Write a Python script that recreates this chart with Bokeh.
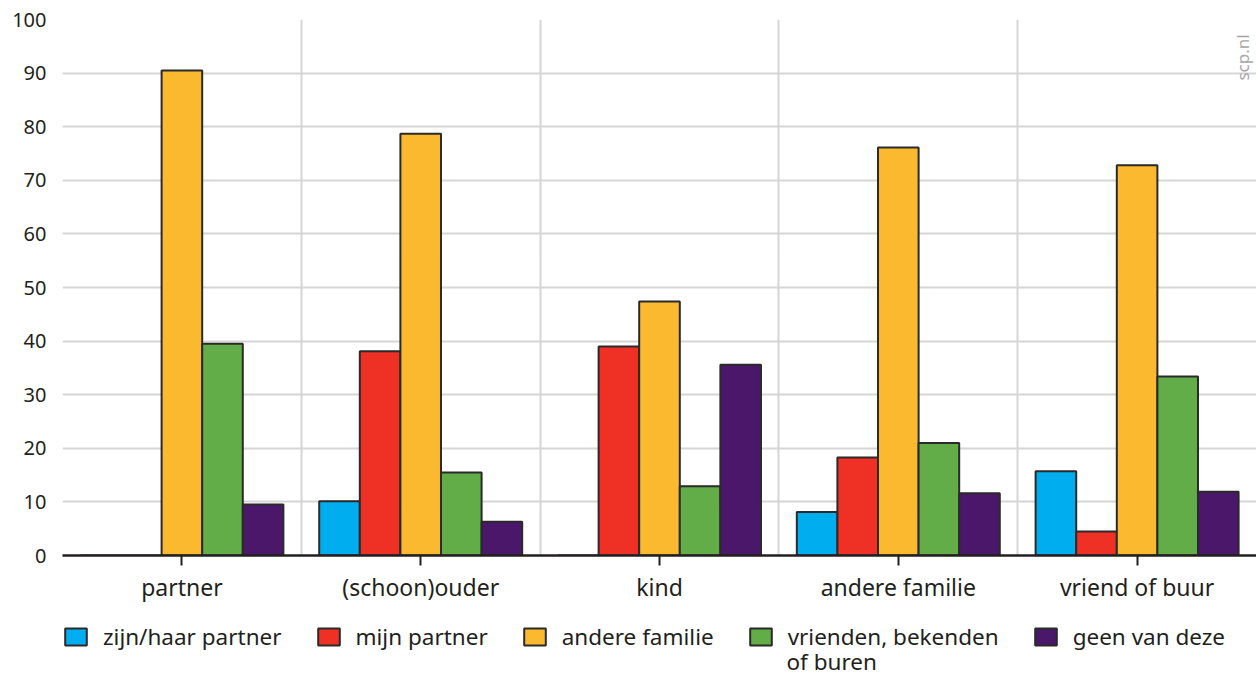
from bokeh.plotting import figure
from bokeh.layouts import column
from bokeh.models import (FactorRange, Range1d, FixedTicker, Legend, LegendItem,
                          Label, ColumnDataSource)
from bokeh.transform import dodge
from bokeh.embed import file_html
from bokeh.resources import INLINE

categories = ["partner", "(schoon)ouder", "kind", "andere familie", "vriend of buur"]
series_names = ["zijn/haar partner", "mijn partner", "andere familie",
                "vrienden, bekenden", "geen van deze"]
legend_extra_line = "of buren"
zijn_haar_partner = [0, 10.1, 0, 8.1, 15.7]
mijn_partner = [0, 38.1, 39.0, 18.3, 4.5]
andere_familie = [90.5, 78.7, 47.4, 76.1, 72.8]
vrienden = [39.5, 15.5, 12.9, 21.0, 33.4]
geen_van_deze = [9.5, 6.3, 35.6, 11.6, 11.9]
y_ticks = [0, 10, 20, 30, 40, 50, 60, 70, 80, 90, 100]

colors = ["#00aeef", "#ee3124", "#fbb930", "#62ad47", "#4b176b"]
series = [zijn_haar_partner, mijn_partner, andere_familie, vrienden, geen_van_deze]

FONT = "Noto Sans"
TXT = "#231f20"
EDGE = "#2a2a2a"
W = 1256

src = ColumnDataSource(dict(cat=categories, s0=series[0], s1=series[1], s2=series[2],
                            s3=series[3], s4=series[4]))

p = figure(x_range=FactorRange(factors=categories, range_padding=0),
           y_range=Range1d(0, 100),
           width=W, height=612, output_backend="svg", toolbar_location=None,
           min_border_left=62, min_border_right=0, min_border_top=19,
           min_border_bottom=57)
p.outline_line_color = None
p.background_fill_color = "white"

bw = 0.17
offsets = [-2 * bw, -bw, 0, bw, 2 * bw]
for i in range(5):
    p.vbar(x=dodge("cat", offsets[i], range=p.x_range), top="s%d" % i, width=bw,
           bottom=0, source=src, fill_color=colors[i], line_color=EDGE, line_width=2)

# grids
p.ygrid.ticker = FixedTicker(ticks=y_ticks)
p.ygrid.grid_line_color = "#d6d6d6"
p.ygrid.grid_line_width = 2
p.xgrid.ticker = FixedTicker(ticks=[0, 1, 2, 3, 4, 5])
p.xgrid.grid_line_color = "#d6d6d6"
p.xgrid.grid_line_width = 2

# axes
p.yaxis.ticker = FixedTicker(ticks=y_ticks)
p.yaxis.axis_line_color = None
p.yaxis.major_tick_line_color = None
p.yaxis.minor_tick_line_color = None
p.yaxis.major_label_text_font = FONT
p.yaxis.major_label_text_font_size = "20px"
p.yaxis.major_label_text_color = TXT
p.yaxis.major_label_standoff = 10

p.xaxis.axis_line_color = "#231f20"
p.xaxis.axis_line_width = 2.5
p.xaxis.major_tick_line_color = "#231f20"
p.xaxis.major_tick_line_width = 2
p.xaxis.major_tick_out = 10
p.xaxis.major_tick_in = 0
p.xaxis.major_label_text_font = FONT
p.xaxis.major_label_text_font_size = "23px"
p.xaxis.major_label_text_color = TXT
p.xaxis.major_label_standoff = 5

p.add_layout(Label(x=1180, y=498, x_units="screen", y_units="screen", text="scp.nl",
                   angle=1.5708, text_align="center", text_baseline="middle",
                   text_font=FONT, text_font_size="17px", text_color="#a6a6a6"))

# legend figure below (its frame is aligned with the chart frame by the column)
lg = figure(width=W, height=65, output_backend="svg", toolbar_location=None,
            x_range=Range1d(0, 1), y_range=Range1d(0, 1),
            x_axis_type=None, y_axis_type=None,
            min_border_left=62, min_border_right=0, min_border_top=0, min_border_bottom=0)
lg.outline_line_color = None
lg.xgrid.visible = False
lg.ygrid.visible = False
items = []
for i in range(5):
    # one undrawn (NaN) bar per series so that the legend has a glyph style to draw
    r = lg.vbar(x=[0.5], top=[float("nan")], width=0.1, fill_color=colors[i],
                line_color=EDGE, line_width=2)
    items.append(LegendItem(label=series_names[i], renderers=[r]))
legend = Legend(items=items, orientation="horizontal", location=(0, 25),
                glyph_width=27, glyph_height=21, label_standoff=14, spacing=33,
                padding=0, margin=0, border_line_color=None, background_fill_alpha=0,
                label_text_font=FONT, label_text_font_size="22.5px",
                label_text_color=TXT, label_height=21)
lg.add_layout(legend, "center")
lg.add_layout(Label(x=724, y=16, x_units="screen", y_units="screen",
                    text=legend_extra_line, text_align="left", text_baseline="middle",
                    text_font=FONT, text_font_size="22.5px", text_color=TXT))

layout = column(p, lg, spacing=0)
open("out.html", "w").write(file_html(layout, INLINE))
